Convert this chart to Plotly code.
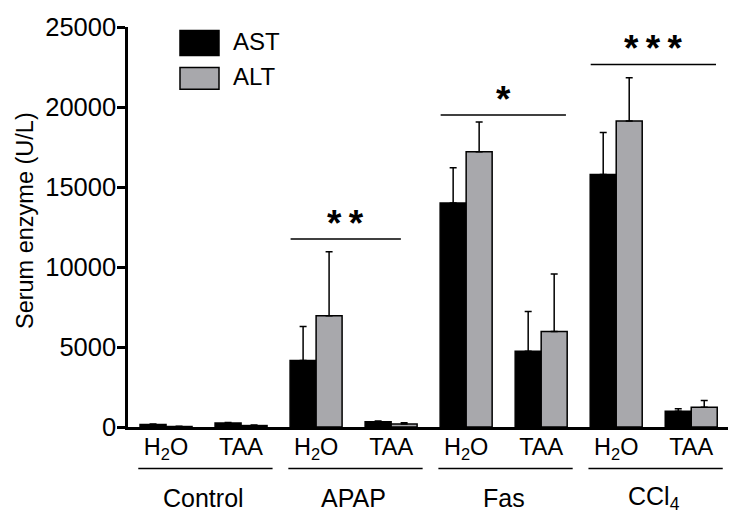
import plotly.graph_objects as go

groups = ["Control", "APAP", "Fas", "CCl<sub>4</sub>"]
treatments = ["H<sub>2</sub>O", "TAA"]
categories = [f"{g}|{t}" for g in groups for t in treatments]
tick_labels = [t for g in groups for t in treatments]

ast_mean = [150, 250, 4150, 330, 14000, 4730, 15780, 980]
ast_err = [30, 30, 2130, 40, 2200, 2490, 2620, 155]
alt_mean = [30, 90, 6950, 180, 17200, 5970, 19130, 1240]
alt_err = [20, 30, 4010, 80, 1870, 3600, 2700, 410]

sig_text = ["**", "*", "***"]
sig_level = [11750, 19500, 22650]
sig_group = [1, 2, 3]

y_ticks = [0, 5000, 10000, 15000, 20000, 25000]

FONT = "Liberation Sans, Arial, sans-serif"

fig = go.Figure()
fig.add_trace(go.Bar(
    name="AST", x=categories, y=ast_mean,
    marker=dict(color="#000000", line=dict(color="#000000", width=1.5)),
    error_y=dict(type="data", array=ast_err, arrayminus=[0] * 8, symmetric=False,
                 color="#000000", thickness=1.5, width=3.5),
))
fig.add_trace(go.Bar(
    name="ALT", x=categories, y=alt_mean,
    marker=dict(color="#A8A8AC", line=dict(color="#000000", width=1.5)),
    error_y=dict(type="data", array=alt_err, arrayminus=[0] * 8, symmetric=False,
                 color="#000000", thickness=1.5, width=3.5),
))

shapes = []
annotations = []

# group underlines and labels
for gi, g in enumerate(groups):
    x0 = gi * 2 - 0.37
    x1 = gi * 2 + 1 + 0.42
    shapes.append(dict(type="line", xref="x", yref="paper", x0=x0, x1=x1,
                       y0=-0.1035, y1=-0.1035, line=dict(color="black", width=1.5)))
    annotations.append(dict(xref="x", yref="paper", x=gi * 2 + 0.5, y=-0.178,
                            text=g, showarrow=False, xanchor="center", yanchor="middle",
                            font=dict(family=FONT, size=25, color="black")))

# significance lines
for txt, lvl, gi in zip(sig_text, sig_level, sig_group):
    x0 = gi * 2 - 0.34
    x1 = gi * 2 + 1 + (0.13 if gi == 1 else 0.33)
    shapes.append(dict(type="line", xref="x", yref="y", x0=x0, x1=x1,
                       y0=lvl, y1=lvl, line=dict(color="black", width=1.5)))
    annotations.append(dict(xref="x", yref="y", x=(x0 + x1) / 2, y=lvl,
                            text="<b>" + "&#8201;".join(txt) + "</b>", showarrow=False,
                            xanchor="center", yanchor="middle", yshift=16,
                            font=dict(family=FONT, size=37, color="black")))

# legend (drawn manually for large swatches)
def px_x(p):
    return (p - 128) / 600.0

def px_y(p):
    return (427.5 - p) / 401.0

legend_items = [("AST", "#000000", 30, 55), ("ALT", "#A8A8AC", 67, 89)]
for name, col, top, bot in legend_items:
    shapes.append(dict(type="rect", xref="paper", yref="paper",
                       x0=px_x(180), x1=px_x(219), y0=px_y(bot), y1=px_y(top),
                       fillcolor=col, line=dict(color="black", width=1.5)))
    annotations.append(dict(xref="paper", yref="paper", x=px_x(231), y=px_y((top + bot) / 2 - 1.5),
                            text=name, showarrow=False, xanchor="left", yanchor="middle",
                            font=dict(family=FONT, size=24, color="black")))

# y-axis title
annotations.append(dict(xref="paper", yref="paper", x=px_x(25), y=px_y(221),
                        text="Serum enzyme (U/L)", textangle=-90, showarrow=False,
                        xanchor="center", yanchor="middle",
                        font=dict(family=FONT, size=23.5, color="black")))

fig.update_layout(
    width=739, height=530,
    margin=dict(l=128, r=11, t=26.5, b=102.5),
    paper_bgcolor="white", plot_bgcolor="white",
    barmode="group", bargap=0.307, bargroupgap=0,
    showlegend=False,
    shapes=shapes, annotations=annotations,
    font=dict(family=FONT, color="black"),
)
fig.update_xaxes(
    type="category", range=[-0.507, 7.49],
    tickmode="array", tickvals=categories, ticktext=tick_labels,
    showline=True, linecolor="black", linewidth=2.5,
    ticks="", showgrid=False, zeroline=False, ticklabelstandoff=-3,
    tickfont=dict(family=FONT, size=23.5, color="black"),
)
fig.update_yaxes(
    range=[0, 25000], tickmode="array", tickvals=y_ticks,
    ticktext=[str(v) for v in y_ticks],
    showline=True, linecolor="black", linewidth=2.5,
    ticks="outside", ticklen=8, tickwidth=2.5, tickcolor="black",
    showgrid=False, zeroline=False, ticklabelstandoff=-4,
    tickfont=dict(family=FONT, size=25.5, color="black"),
)

fig.write_html("out.html", config={"displayModeBar": False},
               post_script="document.body.style.margin='0px';")
